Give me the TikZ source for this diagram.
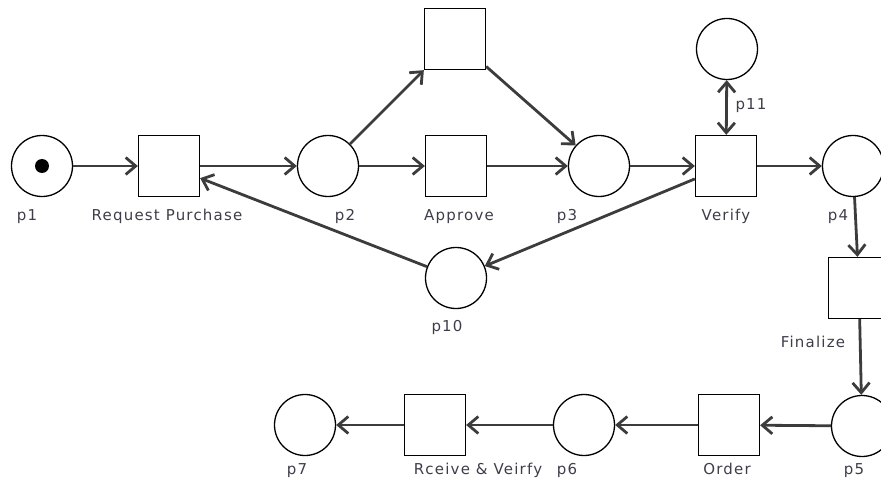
\documentclass[tikz,border=0pt]{standalone}
\usepackage{fontspec}
\setmainfont{DejaVu Sans}[LetterSpace=8]
\usetikzlibrary{arrows.meta}
\definecolor{arcgray}{HTML}{3C3C3C}
\definecolor{labelgray}{HTML}{3E3E4A}
\tikzset{
  place/.style={circle, draw=black, line width=1.3pt, minimum size=61pt, inner sep=0pt, fill=white},
  trans/.style={rectangle, draw=black, line width=1.3pt, minimum size=61pt, inner sep=0pt, fill=white},
  token/.style={circle, fill=black, minimum size=14pt, inner sep=0pt},
  lbl/.style={anchor=mid, inner sep=0pt, text=labelgray, font=\fontsize{15}{18}\selectfont, yshift=-1.5pt},
  tip/.tip={Straight Barb[length=10pt,width=17pt]},
  arc/.style={draw=arcgray, line width=2.8pt, -tip},
  biarc/.style={draw=arcgray, line width=2.8pt, tip-tip},
}
\begin{document}
\begin{tikzpicture}[x=1pt, y=-1pt]
  \useasboundingbox (0,0) rectangle (881,481);
  \clip (0,0) rectangle (881,481);

  % places
  \node[place] (p1)  at (42,166) {};
  \node[token] (tok) at (42,166) {};
  \node[place] (p2)  at (328,166) {};
  \node[place] (p3)  at (599,166) {};
  \node[place] (p4)  at (853,166) {};
  \node[place] (p5)  at (862,426) {};
  \node[place] (p6)  at (584,425) {};
  \node[place] (p7)  at (305,425) {};
  \node[place] (p10) at (456,278) {};
  \node[place] (p11) at (727,49) {};

  % transitions
  \node[trans] (req) at (169,166) {};
  \node[trans] (alt) at (455,39) {};
  \node[trans] (app) at (456,166) {};
  \node[trans] (ver) at (726,166) {};
  \node[trans] (fin) at (859,288) {};
  \node[trans] (ord) at (729,425) {};
  \node[trans] (rcv) at (435,425) {};

  % arcs
  \draw[arc] (p1) -- (req);
  \draw[arc] (req) -- (p2);
  \draw[arc] (p2) -- (alt);
  \draw[arc] (alt) -- (p3);
  \draw[arc] (p2) -- (app);
  \draw[arc] (app) -- (p3);
  \draw[arc] (p3) -- (ver);
  \draw[arc] (ver) -- (p4);
  \draw[arc] (ver) -- (p10);
  \draw[arc] (p10) -- (req);
  \draw[biarc] (p11) -- (ver);
  \draw[arc] (p4) -- (fin);
  \draw[arc] (fin) -- (p5);
  \draw[arc] (p5) -- (ord);
  \draw[arc] (ord) -- (p6);
  \draw[arc] (p6) -- (rcv);
  \draw[arc] (rcv) -- (p7);

  % labels
  \node[lbl] (l1)   at (27,216)  {p1};
  \node[lbl] (lreq) at (167,216) {Request Purchase};
  \node[lbl] (l2)   at (345,216) {p2};
  \node[lbl] (lapp) at (459,216) {Approve};
  \node[lbl] (l3)   at (567,216) {p3};
  \node[lbl] (lver) at (726,216) {Verify};
  \node[lbl] (l4)   at (838,216) {p4};
  \node[lbl] (l11)  at (751,105) {p11};
  \node[lbl] (l10)  at (447,327) {p10};
  \node[lbl] (lfin) at (813,343) {Finalize};
  \node[lbl] (l5)   at (854,470) {p5};
  \node[lbl] (l7)   at (297,470) {p7};
  \node[lbl] (lrcv) at (478,470) {Rceive \& Veirfy};
  \node[lbl] (l6)   at (567,470) {p6};
  \node[lbl] (lord) at (727,470) {Order};
\end{tikzpicture}
\end{document}
